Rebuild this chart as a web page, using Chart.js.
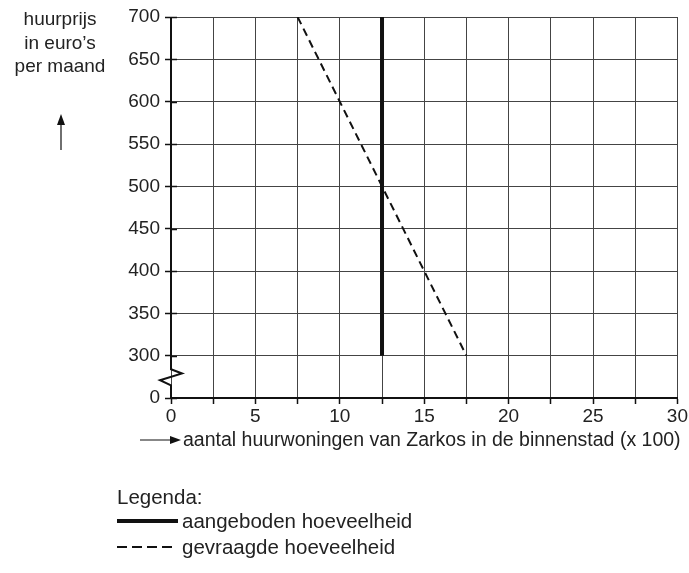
<!DOCTYPE html>
<html>
<head>
<meta charset="utf-8">
<script src="https://cdn.jsdelivr.net/npm/chart.js@4.4.1/dist/chart.umd.min.js"></script>
<style>
  body { margin: 0; background: #fff; }
  #wrap { position: relative; width: 689px; height: 573px; }
  canvas { position: absolute; left: 0; top: 0; }
  .t { position: absolute; font-family: 'Liberation Sans', Arial, sans-serif; color: #222; white-space: nowrap; }
  .lg { position: absolute; font-family: 'Liberation Sans', Arial, sans-serif; color: #222; font-size: 20.5px; white-space: nowrap; }
</style>
</head>
<body>
<div id="wrap">
  <canvas id="chart" width="689" height="573"></canvas>
  <div class="t" style="left:0;width:120px;top:7px;text-align:center;font-size:19px;line-height:23.5px;">huurprijs<br>in euro’s<br>per maand</div>
  <div class="t" style="left:183px;top:428px;font-size:19.5px;">aantal huurwoningen van Zarkos in de binnenstad (x 100)</div>
  <div class="lg" style="left:117px;top:485px;">Legenda:</div>
  <div style="position:absolute;left:117px;top:519px;width:61px;height:4px;background:#111;"></div>
  <div class="lg" style="left:182px;top:509px;">aangeboden hoeveelheid</div>
  <div style="position:absolute;left:117px;top:546px;width:55px;height:2px;background:repeating-linear-gradient(to right,#111 0 10px,transparent 10px 15px);"></div>
  <div class="lg" style="left:182px;top:535px;">gevraagde hoeveelheid</div>
</div>
<script>
// values
const xTicks = [0, 5, 10, 15, 20, 25, 30];
const yTicks = [300, 350, 400, 450, 500, 550, 600, 650, 700];
const supplyX = [12.5, 12.5];
const supplyY = [300, 700];
const demandX = [7.5, 17.5];
const demandY = [700, 300];

const toPoints = (xs, ys) => xs.map((x, i) => ({ x: x, y: ys[i] }));

// y axis with the break (zigzag) between 0 and 300, plus the two arrows
const extras = {
    id: 'extras',
    afterDraw(chart) {
        const ctx = chart.ctx;
        const y = chart.scales.y;
        const a = chart.chartArea;
        const x0 = a.left;
        ctx.save();
        ctx.strokeStyle = '#111';
        ctx.lineWidth = 2;
        ctx.beginPath();
        ctx.moveTo(x0, y.getPixelForValue(700));
        ctx.lineTo(x0, y.getPixelForValue(284));
        ctx.lineTo(x0 + 11, y.getPixelForValue(279));
        ctx.lineTo(x0 - 11, y.getPixelForValue(271));
        ctx.lineTo(x0, y.getPixelForValue(265));
        ctx.lineTo(x0, y.getPixelForValue(250));
        ctx.stroke();

        // small tick stubs to the right of the y axis
        ctx.lineWidth = 1.5;
        ctx.beginPath();
        [250].concat(yTicks).forEach(v => {
            const py = Math.round(y.getPixelForValue(v)) + 0.5;
            ctx.moveTo(x0, py); ctx.lineTo(x0 + 6, py);
        });
        ctx.stroke();

        // arrows
        ctx.lineWidth = 1.2;
        ctx.fillStyle = '#111';
        ctx.beginPath();
        ctx.moveTo(61, 150); ctx.lineTo(61, 122);
        ctx.moveTo(140, 440); ctx.lineTo(172, 440);
        ctx.stroke();
        ctx.beginPath();
        ctx.moveTo(61, 114); ctx.lineTo(57, 125); ctx.lineTo(65, 125); ctx.closePath();
        ctx.fill();
        ctx.beginPath();
        ctx.moveTo(181, 440); ctx.lineTo(170, 436); ctx.lineTo(170, 444); ctx.closePath();
        ctx.fill();
        ctx.restore();
    }
};

new Chart(document.getElementById('chart'), {
    type: 'scatter',
    data: {
        datasets: [{
            label: 'aangeboden hoeveelheid',
            data: toPoints(supplyX, supplyY),
            showLine: true,
            borderColor: '#111',
            borderWidth: 4,
            pointRadius: 0,
            borderCapStyle: 'butt'
        }, {
            label: 'gevraagde hoeveelheid',
            data: toPoints(demandX, demandY),
            showLine: true,
            borderColor: '#111',
            borderWidth: 2,
            borderDash: [8, 5],
            pointRadius: 0
        }]
    },
    options: {
        responsive: false,
        animation: false,
        layout: { padding: { top: 17, right: 10, left: 0, bottom: 0 } },
        plugins: { legend: { display: false }, tooltip: { enabled: false } },
        scales: {
            x: {
                type: 'linear',
                min: 0,
                max: 30,
                afterBuildTicks: s => { s.ticks = []; for (let v = 0; v <= 30; v += 2.5) s.ticks.push({ value: v }); },
                afterFit: s => { s.height = 175; },
                border: { display: true, color: '#111', width: 2 },
                grid: { color: '#444', lineWidth: 1, tickLength: 6, tickColor: '#111', tickWidth: 1.5 },
                ticks: {
                    padding: 1,
                    color: '#222',
                    font: { family: "'Liberation Sans', Arial", size: 19 },
                    maxRotation: 0,
                    callback: v => xTicks.includes(v) ? String(v) : ''
                }
            },
            y: {
                type: 'linear',
                min: 250,
                max: 700,
                afterBuildTicks: s => { s.ticks = [{ value: 250 }].concat(yTicks.map(v => ({ value: v }))); },
                afterFit: s => { s.width = 171; },
                border: { display: false },
                grid: { color: '#444', lineWidth: 1, tickLength: 6, tickColor: '#111', tickWidth: 1.5 },
                ticks: {
                    padding: 5,
                    color: '#222',
                    font: { family: "'Liberation Sans', Arial", size: 19 },
                    callback: v => v === 250 ? '0' : String(v)
                }
            }
        }
    },
    plugins: [extras]
});
</script>
</body>
</html>
